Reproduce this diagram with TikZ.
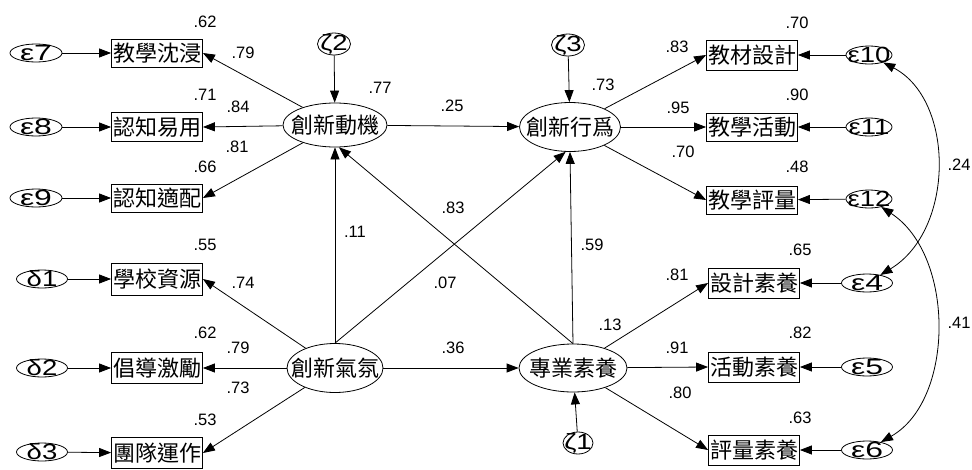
\documentclass[tikz,border=0pt]{standalone}
\usepackage{fontspec}
\setmainfont{Liberation Sans}
\newfontfamily\cjkf{Noto Sans CJK TC}
\newfontfamily\grkf[FakeStretch=1.45]{Liberation Sans}
\newfontfamily\grkn[FakeStretch=1.25]{Liberation Sans}
\usetikzlibrary{arrows.meta,shapes.geometric}
\tikzset{
  obs/.style={draw, line width=0.8pt, minimum width=91pt, minimum height=30pt, inner sep=0pt, font=\cjkf\fontsize{22}{22}\selectfont},
  latell/.style={draw, ellipse, line width=0.8pt, inner sep=0pt},
  lattxt/.style={inner sep=0pt, font=\cjkf\fontsize{22}{22}\selectfont},
  errell/.style={draw, ellipse, line width=0.8pt, inner sep=0pt, minimum height=18pt},
  errtxt/.style={inner sep=0pt, font=\grkf\fontsize{22}{22}\selectfont},
  errtxtn/.style={inner sep=0pt, font=\grkn\fontsize{22}{22}\selectfont},
  num/.style={inner sep=0pt, font=\fontsize{16.5}{16.5}\selectfont},
  arr/.style={-{Triangle[length=12pt,width=9pt]}, line width=0.8pt},
  darr/.style={{Triangle[length=12pt,width=9pt]}-{Triangle[length=12pt,width=9pt]}, line width=0.8pt},
}
\begin{document}
\begin{tikzpicture}[x=1pt,y=-1pt]
\useasboundingbox (0,0) rectangle (972,469);

% latent variables
\node[latell, minimum width=104pt, minimum height=44pt] (mot) at (335,125) {};
\node[lattxt] at (mot) {創新動機};
\node[latell, minimum width=101pt, minimum height=49pt] (beh) at (570,127) {};
\node[lattxt] at (beh) {創新行爲};
\node[latell, minimum width=96pt, minimum height=49pt] (clim) at (335,368) {};
\node[lattxt] at (clim) {創新氣氛};
\node[latell, minimum width=108pt, minimum height=48pt] (prof) at (573,368) {};
\node[lattxt] at (prof) {專業素養};

% disturbances
\node[errell, minimum width=33pt, minimum height=22pt] (z2) at (334,44) {};
\node[errtxtn] at (z2) {ζ2};
\node[errell, minimum width=33pt, minimum height=22pt] (z3) at (568,45) {};
\node[errtxtn] at (z3) {ζ3};
\node[errell, minimum width=30pt, minimum height=22pt] (z1) at (578,443) {};
\node[errtxtn] at (z1) {ζ1};

% left indicators
\node[obs, minimum height=28pt] (b7) at (157,53) {教學沈浸};
\node[obs, minimum height=29pt] (b8) at (157,127) {認知易用};
\node[obs, minimum height=28pt] (b9) at (157,198) {認知適配};
\node[obs, minimum height=32pt] (b1) at (157,279) {學校資源};
\node[obs, minimum height=31pt] (b2) at (157,368) {倡導激勵};
\node[obs, minimum height=31pt] (b3) at (157,453) {團隊運作};

% right indicators
\node[obs] (b10) at (752,55) {教材設計};
\node[obs, minimum height=28pt] (b11) at (752,127) {教學活動};
\node[obs, minimum height=28pt] (b12) at (752,200) {教學評量};
\node[obs] (b4) at (754,283) {設計素養};
\node[obs] (b5) at (754,367) {活動素養};
\node[obs] (b6) at (754,450) {評量素養};

% left errors
\node[errell, minimum width=52pt] (e7) at (36,53) {};
\node[errtxt] at (e7) {ε7};
\node[errell, minimum width=52pt] (e8) at (36,127) {};
\node[errtxt] at (e8) {ε8};
\node[errell, minimum width=52pt] (e9) at (36,198) {};
\node[errtxt] at (e9) {ε9};
\node[errell, minimum width=51pt] (d1) at (42,279) {};
\node[errtxtn] at (d1) {δ1};
\node[errell, minimum width=51pt] (d2) at (42,368) {};
\node[errtxtn] at (d2) {δ2};
\node[errell, minimum width=51pt] (d3) at (42,452) {};
\node[errtxtn] at (d3) {δ3};

% right errors
\node[errell, minimum width=46pt] (e10) at (869,55) {};
\node[errtxtn] at (e10) {ε10};
\node[errell, minimum width=46pt] (e11) at (869,127) {};
\node[errtxtn] at (e11) {ε11};
\node[errell, minimum width=46pt] (e12) at (869,199) {};
\node[errtxtn] at (e12) {ε12};
\node[errell, minimum width=51pt] (e4) at (867,283) {};
\node[errtxt] at (e4) {ε4};
\node[errell, minimum width=51pt] (e5) at (867,367) {};
\node[errtxt] at (e5) {ε5};
\node[errell, minimum width=51pt] (e6) at (867,450) {};
\node[errtxt] at (e6) {ε6};

% error arrows
\foreach \e/\b in {e7/b7,e8/b8,e9/b9,d1/b1,d2/b2,d3/b3,e10/b10,e11/b11,e12/b12,e4/b4,e5/b5,e6/b6}
  \draw[arr] (\e) -- (\b);

% loadings
\foreach \b in {b7,b8,b9} \draw[arr] (mot) -- (\b.east);
\foreach \b in {b1,b2,b3} \draw[arr] (clim) -- (\b.east);
\foreach \b in {b10,b11,b12} \draw[arr] (beh) -- (\b.west);
\foreach \b in {b4,b5,b6} \draw[arr] (prof) -- (\b.west);

% structural paths
\draw[arr] (z2) -- (mot);
\draw[arr] (z3) -- (beh);
\draw[arr] (z1) -- (prof);
\draw[arr] (mot) -- (beh);
\draw[arr] (clim) -- (prof);
\draw[arr] (clim.north) -- (mot.south);
\draw[arr] (clim.north) -- (beh.-100);
\draw[arr] (prof.north) -- (mot.-80);
\draw[arr] (prof.north) -- (beh.south);

% covariances
\draw[darr] (e10) .. controls (955,100) and (955,230) .. (e4);
\draw[darr] (e12) .. controls (955,255) and (955,400) .. (e6);

% numbers
\node[num] at (205,22) {.62};
\node[num] at (243,53) {.79};
\node[num] at (205,95) {.71};
\node[num] at (238,107) {.84};
\node[num] at (237,147) {.81};
\node[num] at (205,167) {.66};
\node[num] at (205,245) {.55};
\node[num] at (243,283) {.74};
\node[num] at (205,333) {.62};
\node[num] at (238,348) {.79};
\node[num] at (238,388) {.73};
\node[num] at (205,420) {.53};
\node[num] at (380,88) {.77};
\node[num] at (452,106) {.25};
\node[num] at (603,85) {.73};
\node[num] at (453,208) {.83};
\node[num] at (355,232) {.11};
\node[num] at (592,245) {.59};
\node[num] at (445,283) {.07};
\node[num] at (453,348) {.36};
\node[num] at (610,325) {.13};
\node[num] at (797,23) {.70};
\node[num] at (677,47) {.83};
\node[num] at (797,95) {.90};
\node[num] at (678,108) {.95};
\node[num] at (797,167) {.48};
\node[num] at (683,152) {.70};
\node[num] at (959,165) {.24};
\node[num] at (800,250) {.65};
\node[num] at (677,275) {.81};
\node[num] at (800,333) {.82};
\node[num] at (677,348) {.91};
\node[num] at (800,418) {.63};
\node[num] at (680,393) {.80};
\node[num] at (959,323) {.41};
\end{tikzpicture}
\end{document}
